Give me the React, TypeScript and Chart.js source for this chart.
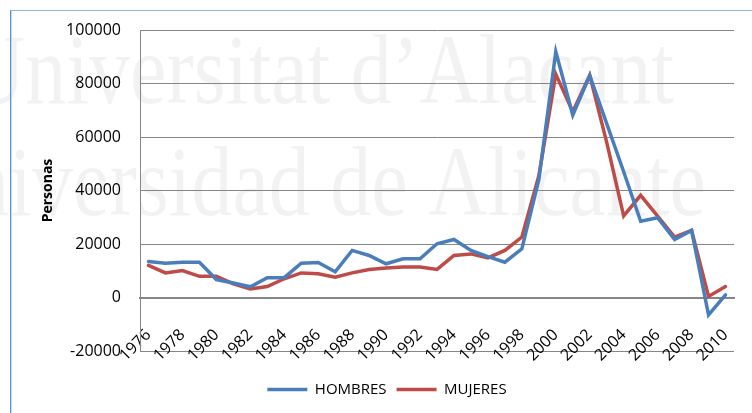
import React, { useEffect, useRef } from "react";
import { Chart, registerables } from "chart.js";

Chart.register(...registerables);

const YEARS = [
  "1976", "1977", "1978", "1979", "1980", "1981", "1982", "1983", "1984", "1985",
  "1986", "1987", "1988", "1989", "1990", "1991", "1992", "1993", "1994", "1995",
  "1996", "1997", "1998", "1999", "2000", "2001", "2002", "2003", "2004", "2005",
  "2006", "2007", "2008", "2009", "2010",
];

const HOMBRES = [
  13500, 12800, 13200, 13200, 6700, 5400, 4000, 7400, 7400, 12800,
  13100, 9600, 17600, 15700, 12600, 14500, 14500, 20100, 21700, 17600,
  15300, 13200, 18200, 44000, 91900, 68200, 83000, 65000, 47000, 28500,
  29800, 21700, 25100, -6500, 1000,
];

const MUJERES = [
  12000, 9200, 10100, 7900, 7900, 5100, 3200, 4100, 7000, 9200,
  8900, 7600, 9200, 10500, 11000, 11400, 11400, 10500, 15700, 16300,
  14800, 17600, 22600, 45500, 83500, 69400, 83100, 58000, 30500, 38200,
  30400, 22600, 25100, 400, 4100,
];

const Y_TICK_STEP = 20000;
const Y_MIN = -20000;
const Y_MAX = 100000;

const WATERMARK_LINES = ["Universitat d\u2019Alacant", "Universidad de Alicante"];

const FONT = "'Open Sans', 'DejaVu Sans', sans-serif";

const watermarkPlugin = {
  id: "watermark",
  beforeDraw(chart: any) {
    const ctx = chart.ctx as CanvasRenderingContext2D;
    ctx.save();
    ctx.fillStyle = "#ffffff";
    ctx.fillRect(0, 0, chart.width, chart.height);
    ctx.fillStyle = "rgba(0,0,0,0.05)";
    ctx.font = "100px 'Liberation Serif', 'DejaVu Serif', serif";
    ctx.textBaseline = "alphabetic";
    const specs = [
      { x: -34, y: 103 },
      { x: -91, y: 215 },
    ];
    WATERMARK_LINES.forEach((t, i) => {
      ctx.save();
      ctx.translate(specs[i].x, specs[i].y);
      ctx.scale(0.82, 1);
      ctx.fillText(t, 0, 0);
      ctx.restore();
    });
    ctx.restore();
  },
};

export default function App() {
  const ref = useRef<HTMLCanvasElement | null>(null);

  useEffect(() => {
    if (!ref.current) return;
    const chart = new Chart(ref.current, {
      type: "line",
      data: {
        labels: YEARS,
        datasets: [
          {
            label: "HOMBRES",
            data: HOMBRES,
            borderColor: "#4a7ebb",
            backgroundColor: "#4a7ebb",
            borderWidth: 3.5,
            pointRadius: 0,
            tension: 0,
            borderCapStyle: "round",
          },
          {
            label: "MUJERES",
            data: MUJERES,
            borderColor: "#be4b48",
            backgroundColor: "#be4b48",
            borderWidth: 3.5,
            pointRadius: 0,
            tension: 0,
            borderCapStyle: "round",
          },
        ],
      },
      options: {
        animation: false,
        responsive: false,
        maintainAspectRatio: false,
        layout: { padding: { left: 40, right: 18, top: 30, bottom: 6 } },
        plugins: {
          tooltip: { enabled: false },
          legend: {
            position: "bottom",
            title: {
              display: true,
              text: "",
              font: { size: 10 },
              padding: { top: 9, bottom: 0 },
            },
            labels: {
              usePointStyle: true,
              pointStyle: "line",
              pointStyleWidth: 40,
              color: "#000",
              font: { family: FONT, size: 15 },
              padding: 10,
            },
          },
        },
        scales: {
          x: {
            type: "category",
            position: { y: 0 } as any,
            offset: true,
            grid: { display: false, drawTicks: false },
            border: { display: true, color: "#868686", width: 2 },
            ticks: {
              autoSkip: false,
              minRotation: 45,
              maxRotation: 45,
              padding: 28,
              color: "#000",
              font: { family: FONT, size: 16 },
              callback: (_v: any, i: number) => (i % 2 === 0 ? YEARS[i] : ""),
            },
            afterFit: (s: any) => {
              s.height = 10;
              s.paddingLeft = 0;
              s.paddingRight = 0;
            },
          },
          y: {
            min: Y_MIN,
            max: Y_MAX,
            ticks: {
              stepSize: Y_TICK_STEP,
              padding: 19,
              color: "#000",
              font: { family: FONT, size: 16 },
              callback: (v: any) => String(v),
            },
            grid: { color: "#868686", lineWidth: 1, drawTicks: false },
            border: { display: true, color: "#868686", width: 1 },
            title: {
              display: true,
              text: "Personas",
              color: "#000",
              font: { family: FONT, size: 14, weight: "bold" },
              padding: { top: 0, bottom: 0 },
            },
            afterFit: (s: any) => {
              s.width = 100;
            },
          },
        },
      },
      plugins: [watermarkPlugin],
    });
    return () => chart.destroy();
  }, []);

  return (
    <div style={{ position: "absolute", left: 0, top: 0, width: 752, height: 413, background: "#fff" }}>
      <canvas ref={ref} width={752} height={413} style={{ position: "absolute", left: 0, top: 0 }} />
      <div
        style={{
          position: "absolute",
          left: 10,
          top: 10,
          width: 742,
          height: 403,
          borderLeft: "1px solid #5d8fd3",
          borderTop: "1px solid #8db3e2",
          boxShadow: "inset 1px 0 0 #c6d9f1",
          pointerEvents: "none",
        }}
      />
    </div>
  );
}
